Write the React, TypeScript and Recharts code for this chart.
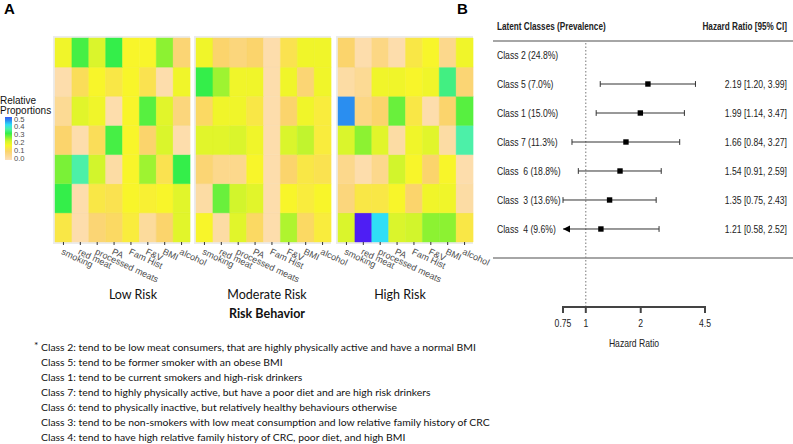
import { BarChart, Bar, Cell, XAxis, YAxis, ScatterChart, Scatter, ReferenceLine } from 'recharts';

// heatmap columns and class rows (top to bottom)
const COLUMNS = ['smoking', 'red meat', 'processed meats', 'PA', 'Fam Hist', 'F&V', 'BMI', 'alcohol'];

const LOW_RISK = [
  [0.18, 0.30, 0.21, 0.31, 0.17, 0.17, 0.26, 0.09],
  [0.02, 0.12, 0.17, 0.14, 0.17, 0.13, 0.02, 0.18],
  [0.05, 0.20, 0.18, 0.02, 0.17, 0.29, 0.20, 0.08],
  [0.10, 0.02, 0.12, 0.30, 0.17, 0.10, 0.21, 0.02],
  [0.27, 0.36, 0.22, 0.03, 0.17, 0.25, 0.13, 0.31],
  [0.31, 0.02, 0.14, 0.13, 0.17, 0.16, 0.17, 0.20],
  [0.14, 0.02, 0.09, 0.11, 0.15, 0.04, 0.10, 0.20],
];

const MODERATE_RISK = [
  [0.18, 0.10, 0.08, 0.10, 0.02, 0.13, 0.18, 0.18],
  [0.31, 0.25, 0.18, 0.18, 0.02, 0.18, 0.09, 0.18],
  [0.11, 0.18, 0.18, 0.14, 0.02, 0.10, 0.18, 0.15],
  [0.20, 0.20, 0.21, 0.18, 0.02, 0.21, 0.23, 0.15],
  [0.09, 0.06, 0.06, 0.17, 0.02, 0.10, 0.14, 0.13],
  [0.03, 0.28, 0.22, 0.20, 0.02, 0.17, 0.15, 0.17],
  [0.17, 0.03, 0.20, 0.11, 0.02, 0.24, 0.11, 0.15],
];

const HIGH_RISK = [
  [0.10, 0.02, 0.07, 0.02, 0.14, 0.17, 0.06, 0.18],
  [0.03, 0.05, 0.18, 0.18, 0.17, 0.18, 0.34, 0.09],
  [0.46, 0.07, 0.10, 0.28, 0.14, 0.02, 0.10, 0.29],
  [0.21, 0.26, 0.20, 0.03, 0.18, 0.20, 0.03, 0.36],
  [0.06, 0.02, 0.06, 0.22, 0.17, 0.10, 0.17, 0.02],
  [0.08, 0.14, 0.14, 0.17, 0.10, 0.18, 0.18, 0.03],
  [0.21, 0.55, 0.41, 0.21, 0.22, 0.26, 0.26, 0.14],
];

const PANEL_TITLES = ['Low Risk', 'Moderate Risk', 'High Risk'];
const LEGEND_TICKS = [0.5, 0.4, 0.3, 0.2, 0.1, 0.0];

// forest plot
const CLASS_LABELS = ['Class 2 (24.8%)', 'Class 5 (7.0%)', 'Class 1 (15.0%)', 'Class 7 (11.3%)', 'Class  6 (18.8%)', 'Class  3 (13.6%)', 'Class  4 (9.6%)'];
const HR = [null, 2.19, 1.99, 1.66, 1.54, 1.35, 1.21];
const CI_LOW = [null, 1.20, 1.14, 0.84, 0.91, 0.75, 0.58];
const CI_HIGH = [null, 3.99, 3.47, 3.27, 2.59, 2.43, 2.52];
const HR_TICKS = [0.75, 1, 2, 4.5];

const FOOTNOTES = [
  'Class 2: tend to be low meat consumers, that are highly physically active and have a normal BMI',
  'Class 5: tend to be former smoker with an obese BMI',
  'Class 1: tend to be current smokers and high-risk drinkers',
  'Class 7: tend to highly physically active, but have a poor diet and are high risk drinkers',
  'Class 6: tend to physically inactive, but relatively healthy behaviours otherwise',
  'Class 3: tend to be non-smokers with low meat consumption and low relative family history of CRC',
  'Class 4: tend to have high relative family history of CRC, poor diet, and high BMI',
];

const STOPS: [number, string][] = [
  [0.0, '#fddfbc'],
  [0.1, '#fbd46c'],
  [0.17, '#f8f52a'],
  [0.22, '#d2f52c'],
  [0.26, '#8cf232'],
  [0.31, '#34ee4a'],
  [0.36, '#4cf0a8'],
  [0.41, '#30def6'],
  [0.46, '#2a8ef0'],
  [0.55, '#4e1ef4'],
];

const hex = (c: string) => [1, 3, 5].map(i => parseInt(c.slice(i, i + 2), 16));

function colorFor(v: number) {
  if (v <= STOPS[0][0]) return STOPS[0][1];
  for (let i = 1; i < STOPS.length; i++) {
    const [v1, c1] = STOPS[i];
    if (v <= v1) {
      const [v0, c0] = STOPS[i - 1];
      const t = (v - v0) / (v1 - v0);
      const a = hex(c0), b = hex(c1);
      const m = a.map((x, k) => Math.round(x + (b[k] - x) * t));
      return `rgb(${m[0]},${m[1]},${m[2]})`;
    }
  }
  return STOPS[STOPS.length - 1][1];
}

const ARIAL = "'Liberation Sans', Arial, sans-serif";
const CALIBRI = "Lato, 'Open Sans', sans-serif";

const PANEL_LEFT = [55, 196, 338];
const PANEL_W = 133;

// Arial Narrow look-alike: Liberation Sans squeezed horizontally
function NarrowText({ x, y, anchor = 'start', size = 10.5, bold = false, fill = '#222', children }: any) {
  return (
    <text
      transform={`translate(${x} ${y}) scale(0.82 1)`}
      textAnchor={anchor}
      dy="0.35em"
      fontSize={size}
      fontWeight={bold ? 'bold' : 'normal'}
      fontFamily={ARIAL}
      fill={fill}
      style={{ whiteSpace: 'pre' }}
    >
      {children}
    </text>
  );
}

function SlantTick(props: any) {
  const { x, y, payload } = props;
  return (
    <text
      x={x}
      y={y}
      transform={`rotate(25 ${x} ${y})`}
      textAnchor="start"
      dominantBaseline="hanging"
      fontSize={9}
      fill="#4d4d4d"
      fontFamily={ARIAL}
    >
      {payload.value}
    </text>
  );
}

function HeatPanel({ values, left }: { values: number[][]; left: number }) {
  const data = COLUMNS.map(col => {
    const row: Record<string, any> = { col };
    values.forEach((_, i) => (row['r' + i] = 1));
    return row;
  });
  const order = values.map((_, i) => values.length - 1 - i);

  return (
    <div style={{ position: 'absolute', left: left - 2, top: 0 }}>
      <div style={{ position: 'absolute', left: 0, top: 36, width: PANEL_W + 4, height: 208, background: '#ebebeb' }} />
      <BarChart
        width={PANEL_W + 80}
        height={300}
        data={data}
        margin={{ top: 38, right: 76, bottom: 0, left: 2 }}
        barCategoryGap={0}
        barGap={0}
        style={{ position: 'absolute', left: 0, top: 0, overflow: 'visible' }}
      >
        <XAxis
          dataKey="col"
          interval={0}
          height={58}
          axisLine={false}
          tickSize={3}
          tickMargin={3}
          tickLine={{ stroke: '#333' }}
          tick={<SlantTick />}
        />
        <YAxis hide type="number" domain={[0, values.length]} />
        {order.map(i => (
          <Bar key={i} dataKey={'r' + i} stackId="s" isAnimationActive={false}>
            {values[i].map((v, j) => (
              <Cell key={j} fill={colorFor(v)} stroke={colorFor(v)} strokeWidth={0.4} />
            ))}
          </Bar>
        ))}
      </BarChart>
    </div>
  );
}

const XMIN = HR_TICKS[0];
const XMAX = HR_TICKS[HR_TICKS.length - 1];
const Y_DOMAIN: [number, number] = [-0.483, 8.69];

const points = HR.map((h, i) => (h == null ? null : { x: h, y: i })).filter(Boolean) as { x: number; y: number }[];
const arrows = CI_LOW.map((l, i) => (l != null && l < XMIN ? { x: XMIN, y: i } : null)).filter(Boolean) as { x: number; y: number }[];
const hrText = (i: number) =>
  HR[i] == null ? '' : `${HR[i]!.toFixed(2)} [${CI_LOW[i]!.toFixed(2)}, ${CI_HIGH[i]!.toFixed(2)}]`;

function RowTick(props: any) {
  const { y, payload } = props;
  const i = payload.value as number;
  return (
    <g>
      <NarrowText x={17} y={y}>{CLASS_LABELS[i]}</NarrowText>
      <NarrowText x={307} y={y} anchor="end">{hrText(i)}</NarrowText>
    </g>
  );
}

// tick label with its own tick mark hanging from the axis line
function HrTick(props: any) {
  const { x, y, payload } = props;
  return (
    <g>
      <path d={`M${x},${y - 12}L${x},${y - 5}`} stroke="#444" strokeWidth={2} fill="none" />
      <NarrowText x={x} y={y + 5} anchor="middle">
        {String(payload.value)}
      </NarrowText>
    </g>
  );
}

function AxisTitle(props: any) {
  const vb = props.viewBox || {};
  return (
    <NarrowText x={vb.x + vb.width / 2} y={vb.y + 36} anchor="middle">
      Hazard Ratio
    </NarrowText>
  );
}

const Square = (p: any) => <rect x={p.cx - 2.7} y={p.cy - 2.7} width={5.4} height={5.4} fill="#000" />;
const LeftArrow = (p: any) => (
  <polygon points={`${p.cx},${p.cy} ${p.cx + 7},${p.cy - 3.5} ${p.cx + 7},${p.cy + 3.5}`} fill="#000" />
);

function Forest() {
  return (
    <ScatterChart
      width={313}
      height={352}
      margin={{ top: 41, right: 88, bottom: 0, left: 82 }}
      style={{ position: 'absolute', left: 480, top: 0, overflow: 'visible' }}
    >
      <XAxis
        type="number"
        dataKey="x"
        scale="log"
        domain={[XMIN, XMAX]}
        allowDataOverflow
        ticks={HR_TICKS}
        interval={0}
        height={45}
        tickSize={6}
        tickMargin={5}
        axisLine={{ stroke: '#444', strokeWidth: 2 }}
        tickLine={false}
        tick={<HrTick />}
        label={{ position: 'insideBottom', content: <AxisTitle /> }}
      />
      <YAxis
        type="number"
        dataKey="y"
        domain={Y_DOMAIN}
        reversed
        ticks={CLASS_LABELS.map((_, i) => i)}
        interval={0}
        width={1}
        axisLine={false}
        tickLine={false}
        tick={<RowTick />}
      />
      <ReferenceLine x={1} stroke="#777" strokeDasharray="1.5 2" />
      {HR.map((h, i) =>
        h == null ? null : (
          <ReferenceLine
            key={'ci' + i}
            segment={[{ x: Math.max(CI_LOW[i]!, XMIN), y: i }, { x: CI_HIGH[i]!, y: i }]}
            stroke="#333"
            strokeWidth={1}
          />
        )
      )}
      {HR.map((h, i) =>
        h == null ? null : (
          <ReferenceLine key={'hc' + i} segment={[{ x: CI_HIGH[i]!, y: i - 0.1 }, { x: CI_HIGH[i]!, y: i + 0.1 }]} stroke="#333" />
        )
      )}
      {HR.map((h, i) =>
        h == null || CI_LOW[i]! < XMIN ? null : (
          <ReferenceLine key={'lc' + i} segment={[{ x: CI_LOW[i]!, y: i - 0.1 }, { x: CI_LOW[i]!, y: i + 0.1 }]} stroke="#333" />
        )
      )}
      <Scatter data={points} shape={<Square />} isAnimationActive={false} />
      <Scatter data={arrows} shape={<LeftArrow />} isAnimationActive={false} />
    </ScatterChart>
  );
}

export default function App() {
  const gradId = 'propGrad';
  return (
    <div style={{ position: 'absolute', left: 0, top: 0, width: 793, height: 444, background: '#fff', overflow: 'hidden' }}>
      <HeatPanel values={LOW_RISK} left={PANEL_LEFT[0]} />
      <HeatPanel values={MODERATE_RISK} left={PANEL_LEFT[1]} />
      <HeatPanel values={HIGH_RISK} left={PANEL_LEFT[2]} />
      <Forest />
      <svg width={793} height={444} style={{ position: 'absolute', left: 0, top: 0, pointerEvents: 'none' }}>
        <defs>
          <linearGradient id={gradId} x1="0" y1="1" x2="0" y2="0">
            {STOPS.filter(s => s[0] <= 0.5).map(([v, c]) => (
              <stop key={v} offset={v / 0.5} stopColor={c} />
            ))}
            <stop offset={1} stopColor={colorFor(0.5)} />
          </linearGradient>
        </defs>
        <text x={4} y={14} fontFamily={ARIAL} fontWeight="bold" fontSize={15}>A</text>
        <text x={457} y={14} fontFamily={ARIAL} fontWeight="bold" fontSize={15}>B</text>

        <g fontFamily={ARIAL} fontSize={10} fill="#111">
          <text x={0} y={104}>Relative</text>
          <text x={0} y={114}>Proportions</text>
        </g>
        <rect x={5} y={117} width={7} height={43} fill={`url(#${gradId})`} />
        {LEGEND_TICKS.map(v => (
          <text key={v} x={14} y={158 - (v / 0.5) * 39} dy="0.35em" fontFamily={ARIAL} fontSize={7.6} fill="#4d4d4d">
            {v.toFixed(1)}
          </text>
        ))}

        <g fontFamily={CALIBRI} fontSize={12.5} fill="#111" textAnchor="middle">
          <text x={133} y={299}>{PANEL_TITLES[0]}</text>
          <text x={267} y={299}>{PANEL_TITLES[1]}</text>
          <text x={400} y={299}>{PANEL_TITLES[2]}</text>
          <text x={267} y={318} fontWeight="bold">Risk Behavior</text>
        </g>

        <NarrowText x={497} y={26} size={10} bold>Latent Classes (Prevalence)</NarrowText>
        <NarrowText x={787} y={26} size={10} bold anchor="end">Hazard Ratio [95% CI]</NarrowText>
        <line x1={493} x2={793} y1={41} y2={41} stroke="#888" strokeWidth={1.5} />
        <line x1={493} x2={793} y1={258} y2={258} stroke="#888" strokeWidth={1.5} />

        <g fontFamily={CALIBRI} fontSize={10.4} fill="#111">
          <text x={34} y={349}>*</text>
          {FOOTNOTES.map((t, i) => (
            <text key={i} x={41} y={351 + i * 15}>{t}</text>
          ))}
        </g>
      </svg>
    </div>
  );
}
